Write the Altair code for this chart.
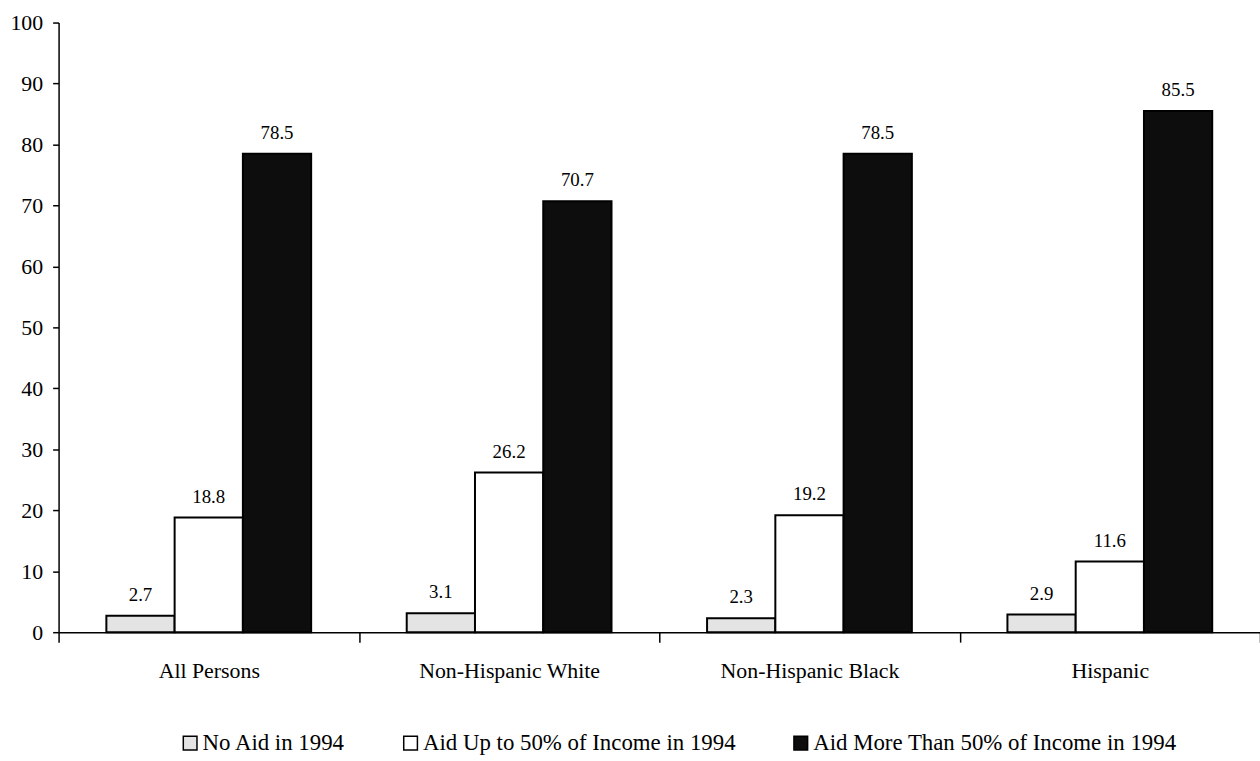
import altair as alt
import pandas as pd

# Share of persons, by aid received in 1994
categories = ["All Persons", "Non-Hispanic White", "Non-Hispanic Black", "Hispanic"]
series = [
    "No Aid in 1994",
    "Aid Up to 50% of Income in 1994",
    "Aid More Than 50% of Income in 1994",
]
no_aid = [2.7, 3.1, 2.3, 2.9]
aid_up_to_50 = [18.8, 26.2, 19.2, 11.6]
aid_more_than_50 = [78.5, 70.7, 78.5, 85.5]
y_ticks = [0, 10, 20, 30, 40, 50, 60, 70, 80, 90, 100]

rows = []
for values, name in zip([no_aid, aid_up_to_50, aid_more_than_50], series):
    for cat, v in zip(categories, values):
        rows.append({"group": cat, "series": name, "value": v})
df = pd.DataFrame(rows)

FONT = "Liberation Serif"

x_enc = alt.X(
    "group:N",
    sort=categories,
    scale=alt.Scale(paddingInner=0, paddingOuter=0),
    axis=alt.Axis(
        title=None,
        labelAngle=0,
        labelLimit=0,
        tickBand="extent",
        tickSize=10,
        labelPadding=19,
        labelFont=FONT,
        labelFontSize=22,
        labelColor="black",
        domainColor="black",
        domainWidth=1.5,
        tickColor="black",
        tickWidth=1.5,
    ),
)
xo_enc = alt.XOffset(
    "series:N",
    sort=series,
    scale=alt.Scale(paddingInner=0, paddingOuter=0.7),
)
y_enc = alt.Y(
    "value:Q",
    scale=alt.Scale(domain=[0, 100], nice=False),
    axis=alt.Axis(
        title=None,
        values=y_ticks,
        grid=False,
        tickSize=6,
        labelPadding=10,
        labelFont=FONT,
        labelFontSize=22,
        labelColor="black",
        domainColor="black",
        domainWidth=1.5,
        tickColor="black",
        tickWidth=1.5,
    ),
)

bars = alt.Chart(df).mark_bar(stroke="black", strokeWidth=2).encode(
    x=x_enc,
    xOffset=xo_enc,
    y=y_enc,
    color=alt.Color(
        "series:N",
        sort=series,
        scale=alt.Scale(domain=series, range=["#e4e4e4", "#ffffff", "#0d0d0d"]),
        legend=alt.Legend(
            title=None,
            orient="none",
            legendX=121,
            legendY=714,
            direction="horizontal",
            columns=3,
            columnPadding=54,
            labelOffset=1,
            labelLimit=0,
            labelFont=FONT,
            labelFontSize=23,
            labelColor="black",
            symbolType="square",
            symbolSize=190,
            symbolStrokeColor="black",
            symbolStrokeWidth=1.5,
        ),
    ),
)

labels = alt.Chart(df).mark_text(
    font=FONT, fontSize=19, color="black", baseline="alphabetic", dy=-15
).encode(
    x=alt.X("group:N", sort=categories),
    xOffset=alt.XOffset("series:N", sort=series),
    y=alt.Y("value:Q"),
    text=alt.Text("value:Q", format=".1f"),
)

chart = (
    alt.layer(bars, labels)
    .properties(
        width=1210,
        height=614,
        autosize=alt.AutoSizeParams(type="none"),
        padding={"left": 59, "top": 20, "right": 0, "bottom": 127},
        background="white",
    )
    .configure_view(stroke=None)
)

chart.save("out.html", embed_options={"renderer": "svg", "actions": False})
